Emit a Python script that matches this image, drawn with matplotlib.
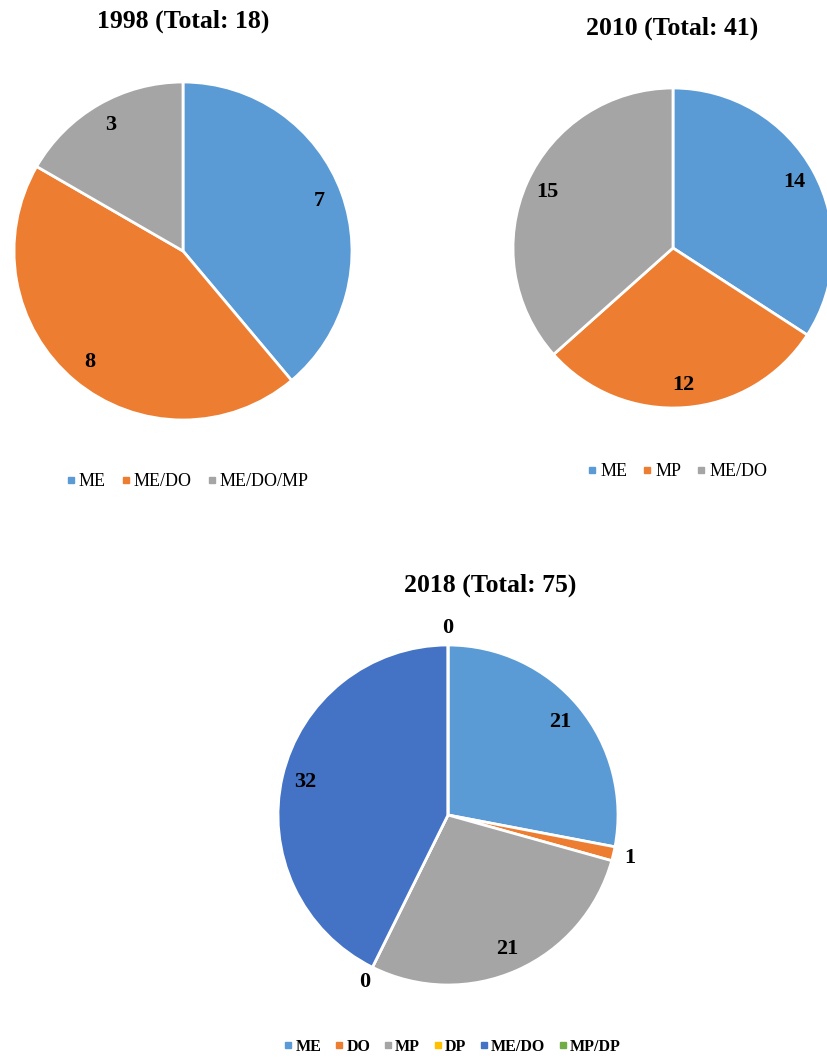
import numpy as np
import matplotlib
matplotlib.use("Agg")
import matplotlib.pyplot as plt
from matplotlib.lines import Line2D

plt.rcParams["font.family"] = ["Liberation Serif", "DejaVu Serif"]

W, H = 827, 1059

# 1998
labels_98 = ["ME", "ME/DO", "ME/DO/MP"]
values_98 = [7, 8, 3]
colors_98 = ["#5B9BD5", "#ED7D31", "#A5A5A5"]

# 2010
labels_10 = ["ME", "MP", "ME/DO"]
values_10 = [14, 12, 15]
colors_10 = ["#5B9BD5", "#ED7D31", "#A5A5A5"]

# 2018
labels_18 = ["ME", "DO", "MP", "DP", "ME/DO", "MP/DP"]
values_18 = [21, 1, 21, 0, 32, 0]
colors_18 = ["#5B9BD5", "#ED7D31", "#A5A5A5", "#FFC000", "#4472C4", "#70AD47"]


def pie_axes(fig, cx, cy, r):
    # cx, cy, r in pixels, image coords (y down)
    return fig.add_axes([(cx - r) / W, (H - cy - r) / H, 2 * r / W, 2 * r / H])


def draw_pie(ax, values, colors):
    wedges, _ = ax.pie(values, colors=colors, startangle=90, counterclock=False,
                       radius=1, wedgeprops=dict(edgecolor="white", linewidth=2))
    ax.set_xlim(-1, 1); ax.set_ylim(-1, 1); ax.set_aspect("equal")
    ax.axis("off")
    total = sum(values)
    for w, v in zip(wedges, values):
        ang = np.deg2rad((w.theta1 + w.theta2) / 2)
        d = 0.86 if v / total > 0.05 else 1.1
        ax.text(d * np.cos(ang), d * np.sin(ang), str(v), ha="center", va="center",
                fontsize=16, fontweight="bold", clip_on=False)


def legend(fig, labels, colors, cx, cy, size, bold=False):
    handles = [Line2D([], [], marker="s", ls="none", color=c, markersize=4) for c in colors]
    fig.legend(handles, labels, loc="center", bbox_to_anchor=(cx / W, 1 - cy / H),
               ncol=len(labels), frameon=False, handlelength=0.4, handletextpad=0.25,
               columnspacing=0.9, prop=dict(size=size, weight="bold" if bold else "normal"))


fig = plt.figure(figsize=(W / 100, H / 100), dpi=100)

draw_pie(pie_axes(fig, 183, 251, 169), values_98, colors_98)
fig.text(183 / W, 1 - 28 / H, "1998 (Total: 18)", ha="center", va="baseline",
         fontsize=18.5, fontweight="bold")
legend(fig, labels_98, colors_98, 188, 482, 13)

draw_pie(pie_axes(fig, 673, 248, 160), values_10, colors_10)
fig.text(672 / W, 1 - 35 / H, "2010 (Total: 41)", ha="center", va="baseline",
         fontsize=18.5, fontweight="bold")
legend(fig, labels_10, colors_10, 678, 472, 13)

draw_pie(pie_axes(fig, 448, 815, 170), values_18, colors_18)
fig.text(490 / W, 1 - 592 / H, "2018 (Total: 75)", ha="center", va="baseline",
         fontsize=18.5, fontweight="bold")
legend(fig, labels_18, colors_18, 453, 1047, 11.5, bold=True)

fig.savefig("out.png", dpi=100)
